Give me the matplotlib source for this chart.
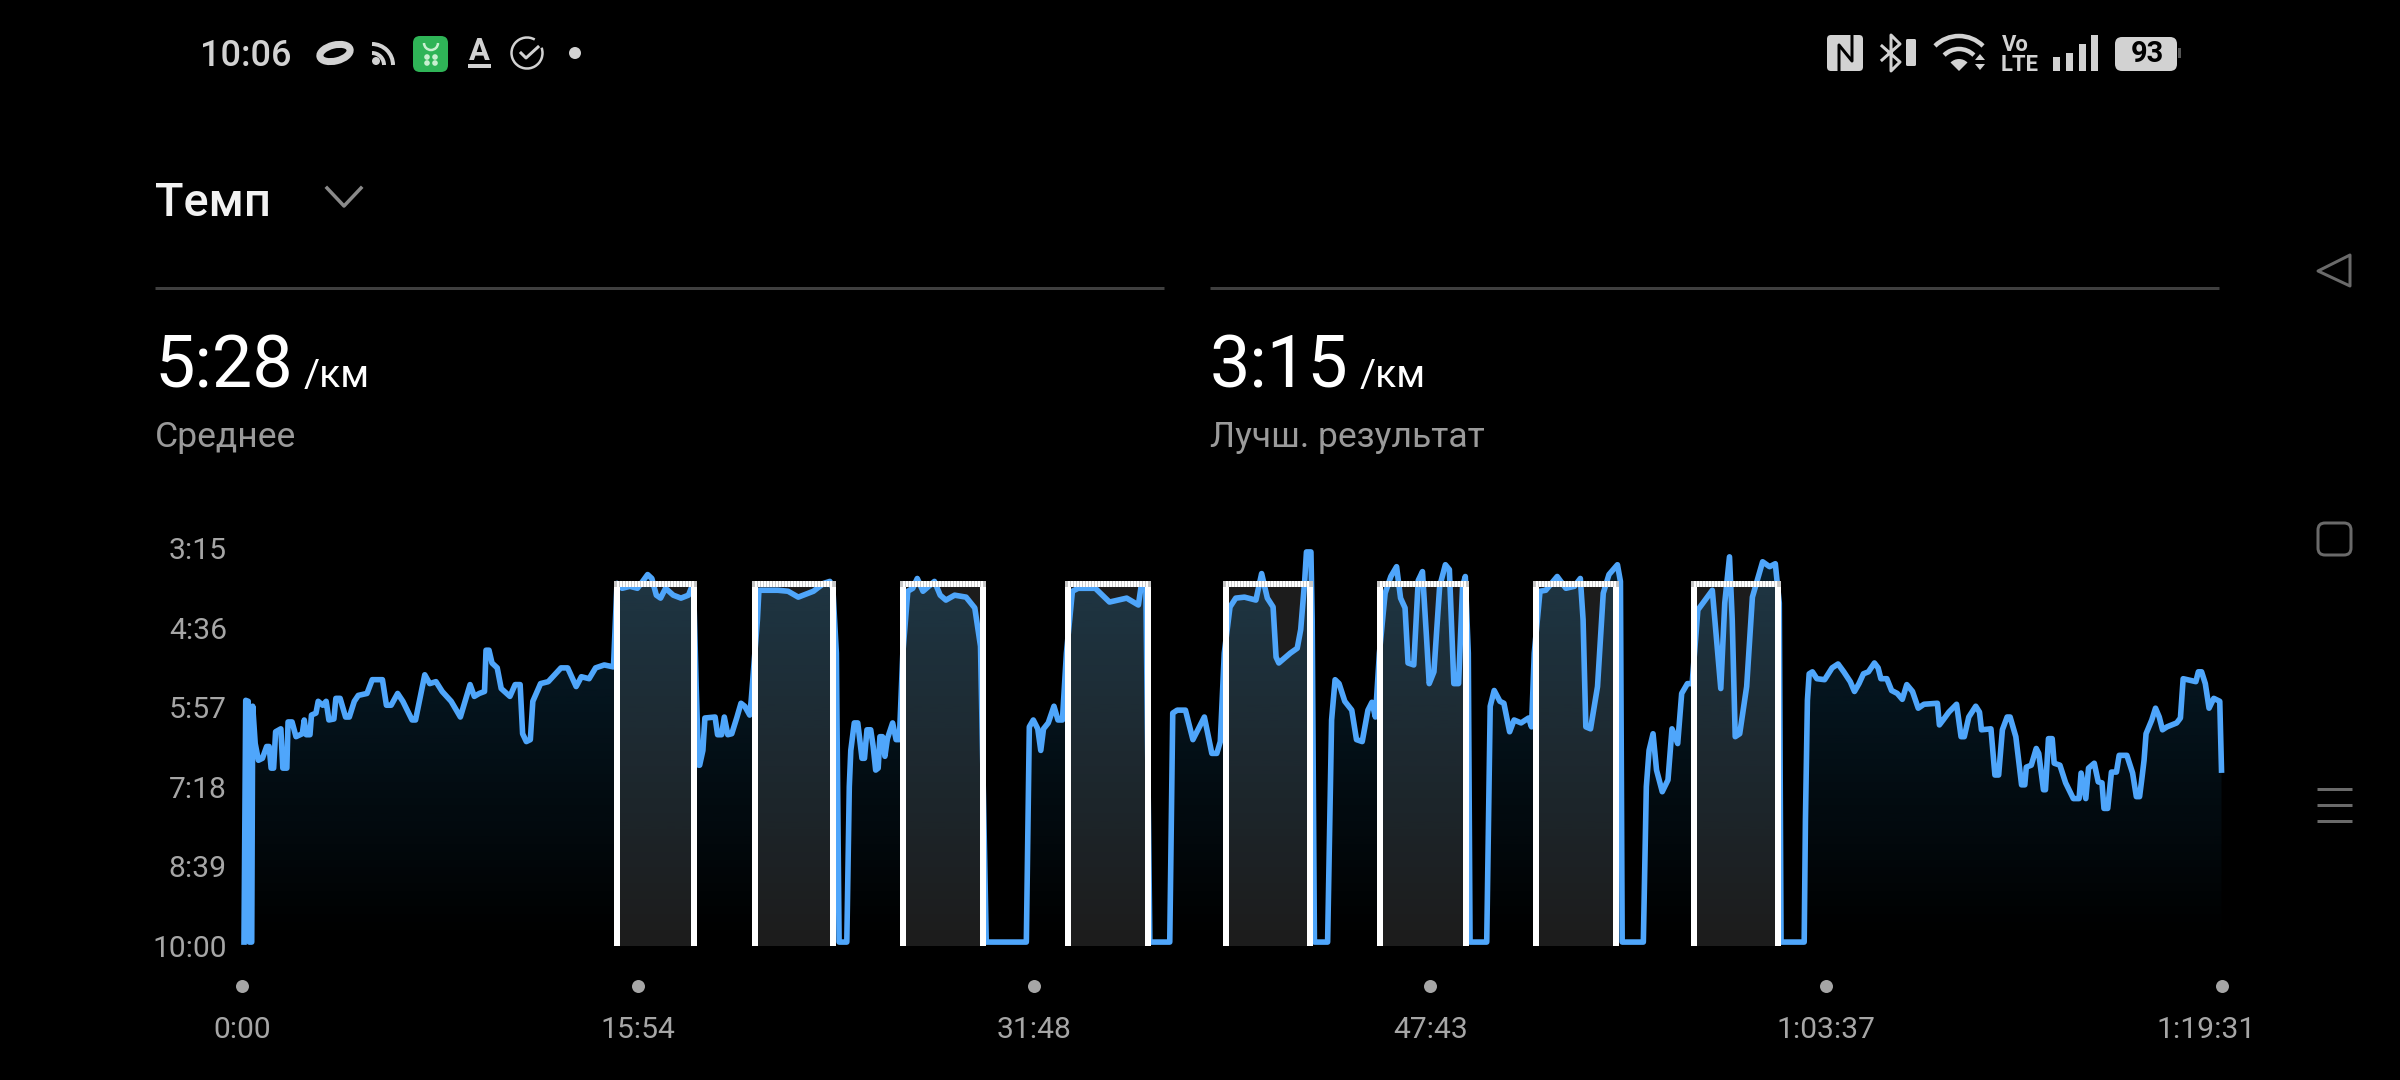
import numpy as np
import matplotlib
matplotlib.use('Agg')
import matplotlib.pyplot as plt
from matplotlib.patches import Arc, Circle, Ellipse, FancyBboxPatch, Polygon, Wedge
from matplotlib.transforms import ScaledTranslation

plt.rcParams['font.family'] = ['Roboto', 'DejaVu Sans']

# elapsed time in minutes
time_min = [
    0.08, 0.15, 0.25, 0.29, 0.39, 0.43, 0.53, 0.66, 0.82, 0.99, 1.09, 1.17, 1.27, 1.35, 1.56, 1.64, 1.80, 1.85, 2.01,
    2.17, 2.42, 2.50, 2.58, 2.73, 2.79, 2.97, 3.06, 3.24, 3.38, 3.49, 3.69, 3.77, 3.94, 4.16, 4.31, 4.51, 4.67, 5.02,
    5.23, 5.64, 5.80, 5.99, 6.25, 6.46, 6.83, 6.97, 7.34, 7.54, 7.79, 8.04, 8.40, 8.77, 9.16, 9.33, 9.53, 9.74, 9.80,
    9.92, 10.04, 10.25, 10.41, 10.76, 10.97, 11.17, 11.27, 11.42, 11.58, 11.68, 11.99, 12.30, 12.81, 13.08, 13.42,
    13.63, 13.94, 14.20, 14.55, 14.92, 15.06, 15.27, 15.58, 15.88, 16.09, 16.29, 16.46, 16.64, 16.81, 17.01, 17.32,
    17.63, 17.93, 18.04, 18.14, 18.24, 18.34, 18.38, 18.51, 18.59, 19.00, 19.10, 19.26, 19.37, 19.51, 19.67, 19.88,
    20.04, 20.19, 20.39, 20.45, 20.70, 20.76, 21.11, 21.52, 21.93, 22.34, 22.95, 23.36, 23.61, 23.73, 23.87, 23.98,
    24.29, 24.39, 24.45, 24.59, 24.73, 24.90, 25.00, 25.10, 25.25, 25.35, 25.45, 25.55, 25.62, 25.72, 25.82, 25.92,
    26.13, 26.27, 26.40, 26.54, 26.74, 26.94, 27.12, 27.35, 27.81, 28.04, 28.27, 28.62, 29.08, 29.43, 29.66, 29.89,
    31.50, 31.62, 31.78, 31.96, 32.08, 32.19, 32.38, 32.61, 32.77, 32.95, 33.11, 33.35, 33.58, 34.27, 34.84, 35.53,
    36.00, 36.11, 36.30, 36.46, 37.26, 37.38, 37.56, 37.89, 38.19, 38.65, 38.95, 39.15, 39.29, 39.45, 39.68, 39.91,
    40.26, 40.72, 40.95, 41.18, 41.41, 41.53, 41.64, 42.10, 42.38, 42.52, 42.68, 42.75, 42.93, 42.98, 43.07, 43.60,
    43.76, 43.90, 44.06, 44.29, 44.57, 44.76, 44.99, 45.22, 45.38, 45.52, 45.68, 45.91, 46.14, 46.37, 46.53, 46.71,
    46.83, 47.06, 47.24, 47.41, 47.57, 47.68, 47.87, 48.10, 48.33, 48.49, 48.67, 48.86, 49.02, 49.13, 49.25, 49.32,
    49.99, 50.13, 50.29, 50.52, 50.68, 50.91, 51.09, 51.37, 51.67, 51.79, 51.90, 52.13, 52.36, 52.82, 53.17, 53.51,
    53.75, 53.86, 53.97, 54.16, 54.44, 54.67, 54.90, 55.24, 55.36, 55.43, 56.28, 56.40, 56.51, 56.67, 56.81, 57.04,
    57.27, 57.43, 57.66, 57.82, 58.05, 58.24, 58.47, 58.70, 59.05, 59.39, 59.55, 59.74, 59.85, 59.97, 60.15, 60.43,
    60.66, 61.07, 61.35, 61.58, 61.74, 61.81, 62.74, 62.79, 62.87, 62.94, 63.07, 63.25, 63.56, 63.86, 64.10, 64.33,
    64.59, 64.76, 64.94, 65.12, 65.32, 65.56, 65.71, 65.82, 66.06, 66.25, 66.48, 66.68, 66.86, 67.09, 67.32, 67.55,
    68.09, 68.17, 68.32, 68.55, 68.86, 69.04, 69.17, 69.35, 69.63, 69.78, 69.86, 70.24, 70.40, 70.55, 70.70, 70.89,
    71.01, 71.24, 71.47, 71.60, 71.66, 71.86, 72.06, 72.16, 72.35, 72.43, 72.55, 72.70, 72.78, 73.01, 73.24, 73.55,
    73.78, 73.86, 74.05, 74.16, 74.39, 74.55, 74.70, 74.78, 74.93, 75.08, 75.28, 75.39, 75.70, 75.93, 76.08, 76.21,
    76.31, 76.39, 76.47, 76.70, 76.85, 77.00, 77.13, 77.31, 77.70, 77.85, 77.96, 78.47, 78.57, 78.70, 78.85, 79.00,
    79.19, 79.43, 79.50,
]
# pace in seconds per km
pace_sec = [
    596, 350, 351, 596, 596, 356, 394, 411, 409, 397, 397, 419, 419, 382, 379, 419, 419, 372, 372,
    387, 384, 370, 385, 385, 365, 363, 351, 355, 351, 370, 369, 348, 348, 367, 367, 351, 345, 343,
    329, 329, 355, 355, 343, 351, 370, 370, 324, 333, 331, 341, 351, 367, 334, 346, 343, 341, 299,
    299, 312, 317, 338, 346, 334, 334, 384, 392, 390, 351, 333, 331, 317, 317, 336,
    326, 328, 317, 314, 316, 231, 236, 234, 236, 229, 222, 226, 243, 246, 236, 243,
    246, 243, 236, 236, 336, 416, 416, 401, 368, 367, 385, 385, 367, 385, 384, 367,
    353, 356, 365, 350, 268, 238, 238, 238, 239, 245, 239, 231, 229, 236, 302, 596,
    596, 438, 401, 373, 373, 409, 409, 380, 380, 397, 421, 419, 387, 387, 407, 389,
    373, 390, 390, 302, 239, 236, 226, 239, 229, 243, 248, 243, 245, 256, 295, 596,
    596, 377, 370, 379, 401, 379, 373, 356, 370, 370, 302, 239, 236, 236, 250, 246,
    253, 234, 234, 596, 596, 363, 360, 360, 390, 367, 404, 404, 392, 302, 255, 246,
    245, 248, 221, 246, 255, 306, 312, 302, 297, 278, 228, 199, 199, 268, 596, 596,
    370, 329, 333, 351, 360, 390, 392, 360, 352, 367, 302, 241, 224, 214, 246, 256,
    312, 314, 228, 219, 285, 333, 321, 234, 212, 217, 333, 333, 234, 224, 302, 596,
    596, 356, 340, 351, 353, 382, 370, 373, 368, 377, 302, 239, 238, 224, 236, 234,
    226, 268, 377, 379, 336, 241, 222, 212, 229, 596, 596, 438, 401, 384, 421, 443,
    431, 379, 394, 343, 333, 333, 258, 250, 238, 338, 251, 204, 268, 387, 384, 336,
    245, 209, 214, 211, 251, 596, 596, 472, 350, 323, 321, 328, 329, 317, 313, 321,
    331, 341, 333, 323, 321, 312, 317, 328, 328, 340, 343, 349, 334, 341, 358, 354,
    353, 375, 370, 362, 354, 387, 387, 367, 356, 362, 380, 379, 426, 426, 380, 367,
    367, 387, 436, 436, 418, 416, 399, 404, 441, 441, 389, 389, 414, 416, 434, 450,
    450, 424, 450, 419, 414, 433, 434, 460, 460, 423, 423, 406, 406, 424, 448, 448,
    428, 411, 384, 370, 358, 367, 380, 377, 373, 368, 328, 331, 321, 321, 333, 358,
    348, 351, 421,
]

# fast intervals marked with white frames (start, end in minutes)
interval_start = [15.08, 20.62, 26.55, 33.16, 39.50, 45.70, 51.97, 58.31]
interval_end = [18.14, 23.73, 29.77, 36.37, 42.91, 49.14, 55.20, 61.70]
interval_top = 232
pace_floor = 600

y_ticks = [195, 276, 357, 438, 519, 600]
y_labels = ['3:15', '4:36', '5:57', '7:18', '8:39', '10:00']
x_ticks = [0, 15.9, 31.8, 47.72, 63.62, 79.52]
x_labels = ['0:00', '15:54', '31:48', '47:43', '1:03:37', '1:19:31']

title = 'Темп'
avg_value, avg_label = '5:28', 'Среднее'
best_value, best_label = '3:15', 'Лучш. результат'
unit = '/км'
clock = '10:06'
battery = '93'

W, H = 2400, 1080
BLUE = '#4fa6fb'
GREY = '#a6a6a6'
ICON = '#d2d2d2'


def px(v):
    # pixels to points at dpi 100
    return v * 0.72


fig = plt.figure(figsize=(W / 100, H / 100), dpi=100, facecolor='black')

# chart axes, 0:00 at x=242 and 1:19:31 at x=2222, 3:15 at y=548 and 10:00 at y=946
ax = fig.add_axes([242 / W, 1 - 946 / H, (2222 - 242) / W, (946 - 548) / H], facecolor='none')

for a, b in zip(interval_start, interval_end):
    ax.fill_between([a, b], interval_top, pace_floor, color='#1c1c1c', lw=0, zorder=1)

# gradient under the line, clipped to the area
poly = ax.fill_between(time_min, pace_sec, pace_floor, color='none', lw=0)
grad = np.zeros((256, 1, 4))
grad[:, 0, 0] = 40 / 255
grad[:, 0, 1] = 165 / 255
grad[:, 0, 2] = 240 / 255
grad[:, 0, 3] = np.linspace(0.20, 0, 256)
img = ax.imshow(grad, extent=[0, 79.52, pace_floor, 195], aspect='auto', origin='upper', zorder=2)
img.set_clip_path(poly.get_paths()[0], transform=ax.transData)

ax.plot(time_min, pace_sec, color=BLUE, lw=px(5.6), solid_joinstyle='round', clip_on=False, zorder=3)

# white frames have no bottom edge, the top one looks finely ticked
for a, b in zip(interval_start, interval_end):
    ax.plot([a, a], [pace_floor, interval_top], color='white', lw=px(6), solid_capstyle='butt', clip_on=False, zorder=4)
    ax.plot([b, b], [pace_floor, interval_top], color='white', lw=px(6), solid_capstyle='butt', clip_on=False, zorder=4)
    ax.plot([a, b], [interval_top, interval_top], color='#c8c8c8', lw=px(6), solid_capstyle='projecting', zorder=4, clip_on=False)
    ax.plot([a, b], [interval_top, interval_top], color='white', lw=px(6), ls=(0, (0.35, 0.15)), zorder=4, clip_on=False)

ax.set_xlim(0, 79.52)
ax.set_ylim(600, 195)
ax.set_yticks(y_ticks)
ax.set_yticklabels(y_labels)
ax.set_xticks(x_ticks)
ax.set_xticklabels(x_labels)
ax.tick_params(axis='y', length=0, pad=px(15), labelsize=px(30), labelcolor=GREY)
ax.tick_params(axis='x', length=0, pad=px(70), labelsize=px(30), labelcolor=GREY)
for s in ax.spines.values():
    s.set_visible(False)

# last time label is pulled in from the edge
last = ax.get_xticklabels()[-1]
last.set_transform(last.get_transform() + ScaledTranslation(-15.5 / 100, 0, fig.dpi_scale_trans))

ax.scatter(x_ticks, [-40 / 398] * len(x_ticks), s=px(13) ** 2, color=GREY, lw=0,
           transform=ax.get_xaxis_transform(), clip_on=False)

# everything around the chart, in screen pixels
ui = fig.add_axes([0, 0, 1, 1], facecolor='none')
ui.set_xlim(0, W)
ui.set_ylim(H, 0)
ui.axis('off')

ui.text(155, 216, title, color='#f2f2f2', fontsize=px(47), fontweight='medium')
ui.plot([327, 344, 361], [188, 206, 188], color='#8a8a8a', lw=px(3.5))

ui.plot([155, 1164], [288, 288], color='#3f3f3f', lw=px(3), solid_capstyle='butt')
ui.plot([1210, 2219], [288, 288], color='#3f3f3f', lw=px(3), solid_capstyle='butt')

ui.text(155, 388, avg_value, color='white', fontsize=px(72))
ui.text(304, 387, unit, color='white', fontsize=px(39))
ui.text(155, 447, avg_label, color='#9a9a9a', fontsize=px(35.5))
ui.text(1210, 388, best_value, color='white', fontsize=px(72))
ui.text(1360, 387, unit, color='white', fontsize=px(39))
ui.text(1210, 447, best_label, color='#9a9a9a', fontsize=px(35.5))

# status bar, left side
ui.text(200, 66, clock, color=ICON, fontsize=px(36), fontweight='medium')
ui.add_patch(Ellipse((335, 53), 31, 16, angle=-14, fc='none', ec=ICON, lw=px(7)))
ui.add_patch(Circle((376, 61), 4, fc=ICON, lw=0))
ui.add_patch(Arc((372, 65), 24, 24, theta1=-90, theta2=0, ec=ICON, lw=px(4)))
ui.add_patch(Arc((372, 65), 42, 42, theta1=-90, theta2=0, ec=ICON, lw=px(4)))
ui.add_patch(FancyBboxPatch((417, 40), 27, 28, boxstyle='round,pad=4,rounding_size=7', fc='#2fb457', lw=0))
ui.add_patch(Arc((431, 43), 14, 14, theta1=0, theta2=180, ec='#c8f0d0', lw=px(2.5)))
for dx, dy in [(427, 57), (435, 57), (427, 63), (435, 63)]:
    ui.add_patch(Circle((dx, dy), 2.8, fc='#c8f0d0', lw=0))
ui.text(479, 60, 'A', color=ICON, fontsize=px(31), fontweight='bold', ha='center')
ui.plot([468, 491], [66, 66], color=ICON, lw=px(4), solid_capstyle='butt')
ui.add_patch(Arc((527, 53), 31, 31, theta1=-20, theta2=300, ec=ICON, lw=px(2.5)))
ui.plot([521, 526, 538], [53, 58, 47], color=ICON, lw=px(3))
ui.add_patch(Circle((575, 53), 6, fc=ICON, lw=0))

# status bar, right side
ui.add_patch(FancyBboxPatch((1829, 37), 32, 32, boxstyle='round,pad=2,rounding_size=4', fc=ICON, lw=0))
ui.plot([1839, 1839, 1852, 1852], [71, 45, 61, 35], color='black', lw=px(3))
ui.plot([1882, 1900, 1891, 1891, 1900, 1882], [46, 62, 71, 35, 44, 60], color=ICON, lw=px(3))
ui.add_patch(FancyBboxPatch((1906, 39), 10, 27, boxstyle='round,pad=0,rounding_size=1.5', fc=ICON, lw=0))
ui.add_patch(Arc((1959, 70), 68, 68, theta1=-135, theta2=-45, ec=ICON, lw=px(4.5)))
ui.add_patch(Arc((1959, 70), 42, 42, theta1=-135, theta2=-45, ec=ICON, lw=px(4.5)))
ui.add_patch(Wedge((1959, 71), 12, -135, -45, fc=ICON, lw=0))
ui.add_patch(Polygon([[1975, 60], [1985, 60], [1980, 54]], fc=ICON, lw=0))
ui.add_patch(Polygon([[1975, 64], [1985, 64], [1980, 70]], fc=ICON, lw=0))
ui.text(2002, 51, 'Vo', color=ICON, fontsize=px(22), fontweight='bold')
ui.text(2001, 71, 'LTE', color=ICON, fontsize=px(22), fontweight='bold')
for bx, top in zip([2053, 2066, 2079, 2091], [57, 53, 44, 35]):
    ui.add_patch(plt.Rectangle((bx, top), 7, 71 - top, fc=ICON, lw=0))
ui.add_patch(FancyBboxPatch((2118, 40), 56, 28, boxstyle='round,pad=3,rounding_size=7', fc=ICON, lw=0))
ui.add_patch(plt.Rectangle((2178, 48), 3, 10, fc='#555555', lw=0))
ui.text(2147, 54, battery, color='black', fontsize=px(29), fontweight='bold', ha='center', va='center')

# navigation keys on the right edge
NAV = '#6a6a6a'
ui.add_patch(Polygon([[2318, 271], [2350, 255], [2350, 286]], closed=True, fc='none', ec=NAV, lw=px(3), joinstyle='round'))
ui.add_patch(FancyBboxPatch((2324, 529), 21, 20, boxstyle='round,pad=6,rounding_size=7', fc='none', ec=NAV, lw=px(3)))
for ly in [789, 805, 821]:
    ui.plot([2317, 2352], [ly, ly], color=NAV, lw=px(3), solid_capstyle='butt')

fig.savefig('out.png', dpi=100, facecolor='black')
